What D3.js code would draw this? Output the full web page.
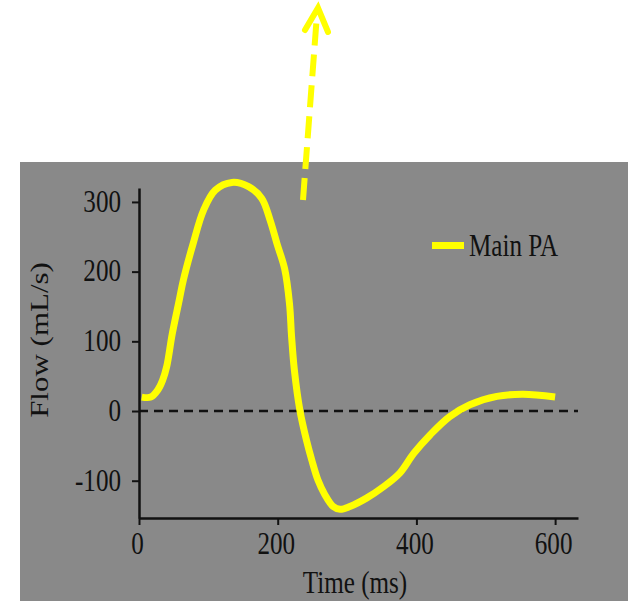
<!DOCTYPE html>
<html>
<head>
<meta charset="utf-8">
<script src="https://cdn.jsdelivr.net/npm/d3@7"></script>
<style>
  body { margin: 0; background: #fff; }
  svg { display: block; }
</style>
</head>
<body>
<script>
// Flow in the main pulmonary artery over one beat
var timeMs = [4, 17, 27, 34, 40, 48, 58, 64, 78, 93, 110, 134, 158, 177, 189, 199, 210, 217, 220, 224, 232, 242, 249, 258, 268, 280, 290, 304, 328, 352, 376, 396, 420, 448, 477, 516, 554, 600];
var flowMl = [20, 20, 30, 44, 64, 111, 159, 188, 240, 288, 317, 328, 322, 305, 274, 240, 204, 154, 107, 59, 1, -44, -70, -99, -120, -137, -141, -137, -125, -109, -89, -61, -34, -8, 9, 21, 24, 20];
var xTicks = [0, 200, 400, 600];
var yTicks = [-100, 0, 100, 200, 300];
var seriesName = "Main PA";

var W = 630, H = 601;
var serif = "'Liberation Serif', 'Times New Roman', serif";
var squash = 0.81; // the source text looks stretched upward

var svg = d3.select("body").append("svg").attr("width", W).attr("height", H);

// gray panel
svg.append("rect").attr("x", 20).attr("y", 162).attr("width", 608).attr("height", H - 162).attr("fill", "#898989");

// scales
var x = d3.scaleLinear().domain([0, 633]).range([139, 578]);
var y = d3.scaleLinear().domain([-153.5, 320]).range([518, 188]);

// zero line
svg.append("line")
  .attr("x1", x(0)).attr("x2", x(633))
  .attr("y1", y(0)).attr("y2", y(0))
  .attr("stroke", "#111").attr("stroke-width", 2.5)
  .attr("stroke-dasharray", "9,6");

// y axis
var gy = svg.append("g").attr("transform", "translate(" + x(0) + ",0)")
  .call(d3.axisLeft(y).tickValues(yTicks).tickSize(7).tickSizeOuter(0).tickFormat(function(d){ return String(d); }));
gy.select(".domain").attr("stroke", "#111").attr("stroke-width", 2.5);
gy.selectAll(".tick line").attr("stroke", "#111").attr("stroke-width", 2);
gy.selectAll(".tick text")
  .attr("x", 0).attr("dy", "0.3em")
  .attr("transform", "translate(-18,0) scale(" + squash + ",1)")
  .attr("font-family", serif).attr("font-size", 31).attr("fill", "#111");

// x axis
var gx = svg.append("g").attr("transform", "translate(0," + y(-153.5) + ")")
  .call(d3.axisBottom(x).tickValues(xTicks).tickSize(7).tickSizeOuter(0));
gx.select(".domain").attr("stroke", "#111").attr("stroke-width", 2.5);
gx.selectAll(".tick line").attr("stroke", "#111").attr("stroke-width", 2);
gx.selectAll(".tick text")
  .attr("y", 0).attr("dy", 0)
  .attr("transform", "translate(-2,36) scale(" + squash + ",1)")
  .attr("font-family", serif).attr("font-size", 31).attr("fill", "#111");

// axis titles
svg.append("text")
  .attr("transform", "translate(355,593) scale(" + squash + ",1)")
  .attr("text-anchor", "middle")
  .attr("font-family", serif).attr("font-size", 31).attr("fill", "#111")
  .text("Time (ms)");
svg.append("text")
  .attr("transform", "translate(48,340) rotate(-90) scale(1," + squash + ")")
  .attr("text-anchor", "middle")
  .attr("font-family", serif).attr("font-size", 31).attr("fill", "#111")
  .text("Flow (mL/s)");

// flow curve
var pts = timeMs.map(function(t, i){ return [t, flowMl[i]]; });
var line = d3.line()
  .x(function(d){ return x(d[0]); })
  .y(function(d){ return y(d[1]); })
  .curve(d3.curveCatmullRom.alpha(0.5));
svg.append("path")
  .attr("d", line(pts))
  .attr("fill", "none")
  .attr("stroke", "#ffff00")
  .attr("stroke-width", 7)
  .attr("stroke-linejoin", "round");

// legend
svg.append("rect").attr("x", 432).attr("y", 242).attr("width", 32).attr("height", 7).attr("fill", "#ffff00");
svg.append("text")
  .attr("transform", "translate(469,256) scale(" + squash + ",1)")
  .attr("font-family", serif).attr("font-size", 31).attr("fill", "#111")
  .text(seriesName);

// dashed arrow pointing up out of the panel
svg.append("line")
  .attr("x1", 303).attr("y1", 200).attr("x2", 317).attr("y2", 14)
  .attr("stroke", "#ffff00").attr("stroke-width", 6)
  .attr("stroke-dasharray", "22,9");
svg.append("path")
  .attr("d", "M305,30 L318,8 L328,32")
  .attr("fill", "none").attr("stroke", "#ffff00").attr("stroke-width", 6)
  .attr("stroke-linecap", "round").attr("stroke-linejoin", "miter");
</script>
</body>
</html>
